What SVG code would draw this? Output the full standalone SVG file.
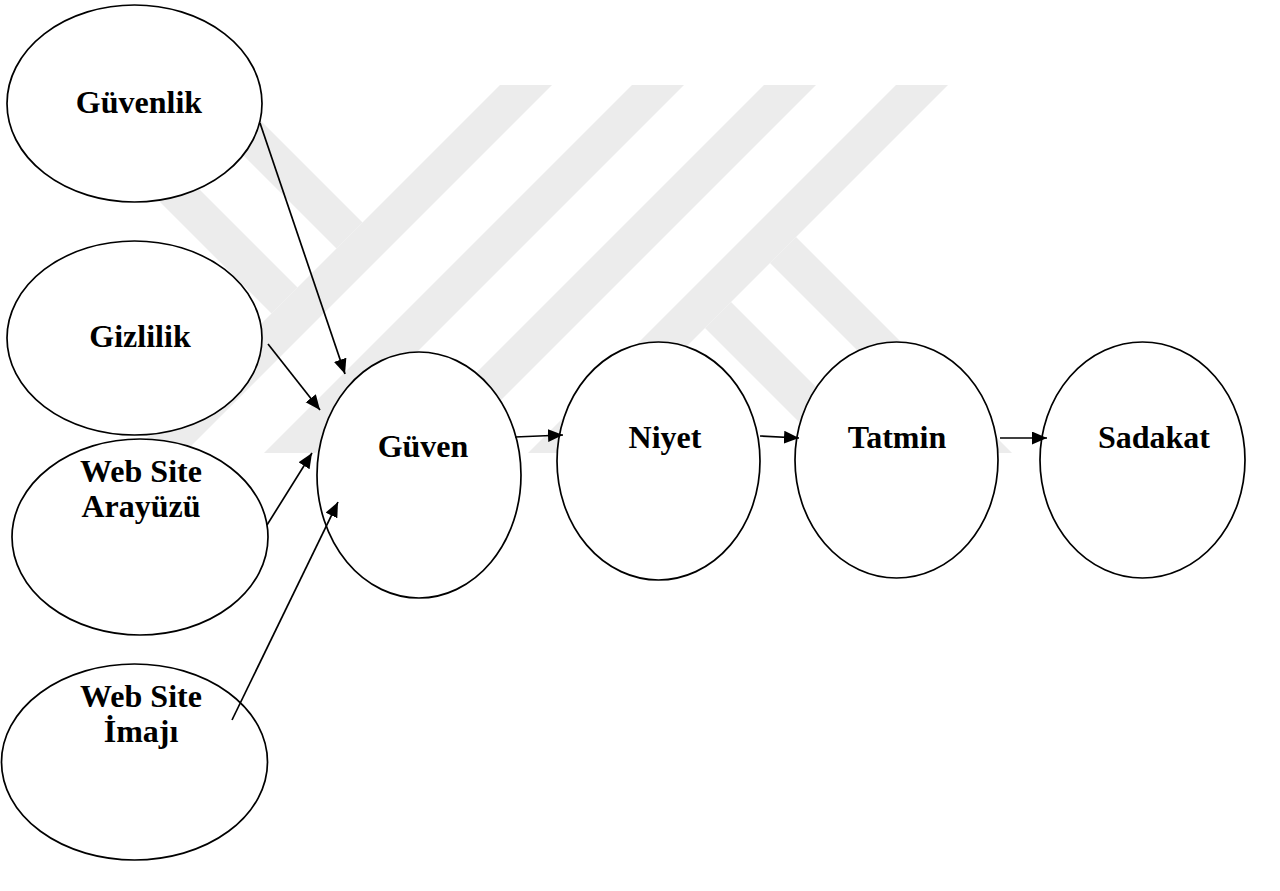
<svg xmlns="http://www.w3.org/2000/svg" width="1280" height="891" viewBox="0 0 1280 891">
<style>
.wm{fill:#ececec;stroke:none}
.nd{fill:#ffffff;stroke:#000000;stroke-width:1.7}
.lb{font-family:"Liberation Serif","Times New Roman",serif;font-weight:bold;font-size:32px;fill:#000000;text-anchor:middle}
.cn{stroke:#000000;stroke-width:1.7;fill:none;marker-end:url(#ah)}
</style>
<defs>
<marker id="ah" markerUnits="userSpaceOnUse" markerWidth="16" markerHeight="14" refX="15" refY="6.5" orient="auto">
<path d="M0,0 L15,6.5 L0,13 Z" fill="#000000"/>
</marker>
</defs>
<rect x="0" y="0" width="1280" height="891" fill="#ffffff"/>
<g id="watermark">
<polygon class="wm" points="500,85 552,85 184,453 132,453"/>
<polygon class="wm" points="632,85 684,85 316,453 264,453"/>
<polygon class="wm" points="764,85 816,85 448,453 396,453"/>
<polygon class="wm" points="896,85 948,85 580,453 528,453"/>
<polygon class="wm" points="173,85 225,85 362.5,222.5 336.5,248.5"/>
<polygon class="wm" points="43,85 95,85 297.5,287.5 271.5,313.5"/>
<polygon class="wm" points="796,237 1012,453 960,453 770,263"/>
<polygon class="wm" points="731,302 882,453 830,453 705,328"/>
</g>
<g id="n-guvenlik">
<ellipse class="nd" cx="134.5" cy="103.5" rx="127.5" ry="98.5"/>
<text class="lb" x="139" y="113">Güvenlik</text>
</g>
<g id="n-gizlilik">
<ellipse class="nd" cx="134.5" cy="338" rx="127.5" ry="97"/>
<text class="lb" x="140" y="347">Gizlilik</text>
</g>
<g id="n-arayuzu">
<ellipse class="nd" cx="140" cy="537" rx="128" ry="98"/>
<text class="lb" x="141" y="482">Web Site</text>
<text class="lb" x="141" y="517">Arayüzü</text>
</g>
<g id="n-imaji">
<ellipse class="nd" cx="134.5" cy="762" rx="133" ry="98"/>
<text class="lb" x="141" y="707">Web Site</text>
<text class="lb" x="141" y="742">İmajı</text>
</g>
<g id="n-guven">
<ellipse class="nd" cx="419" cy="475" rx="102" ry="123"/>
<text class="lb" x="423" y="457">Güven</text>
</g>
<g id="n-niyet">
<ellipse class="nd" cx="658.5" cy="461" rx="101.5" ry="119"/>
<text class="lb" x="665" y="448">Niyet</text>
</g>
<g id="n-tatmin">
<ellipse class="nd" cx="896.5" cy="460" rx="101.5" ry="118"/>
<text class="lb" x="897" y="448">Tatmin</text>
</g>
<g id="n-sadakat">
<ellipse class="nd" cx="1142.5" cy="460" rx="102.5" ry="118"/>
<text class="lb" x="1154" y="448">Sadakat</text>
</g>
<g id="connectors">
<line class="cn" x1="260" y1="123" x2="345" y2="374"/>
<line class="cn" x1="268" y1="344" x2="320" y2="410"/>
<line class="cn" x1="267" y1="525" x2="312" y2="453"/>
<line class="cn" x1="232" y1="720" x2="338" y2="502"/>
<line class="cn" x1="515" y1="437" x2="563" y2="435"/>
<line class="cn" x1="760" y1="436" x2="799" y2="438"/>
<line class="cn" x1="1000" y1="438" x2="1047" y2="438"/>
</g>
</svg>
